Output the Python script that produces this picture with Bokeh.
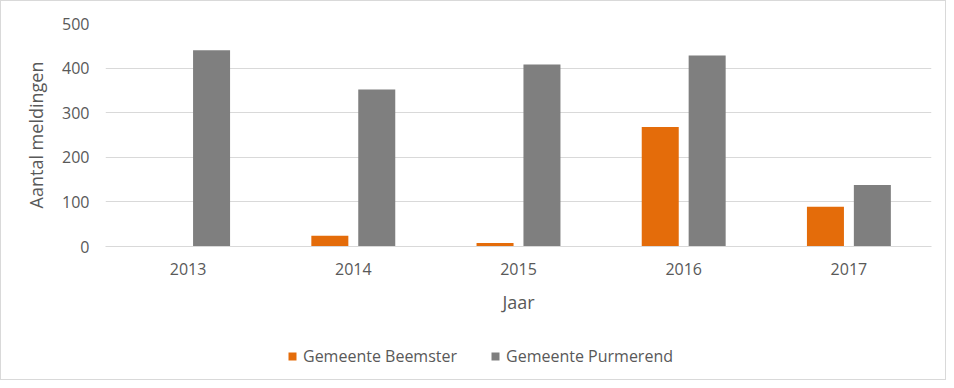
from bokeh.plotting import figure
from bokeh.layouts import column
from bokeh.models import FactorRange, Range1d, ColumnDataSource, Legend, LegendItem, FixedTicker
from bokeh.transform import dodge
from bokeh.embed import file_html
from bokeh.resources import INLINE

years = ["2013", "2014", "2015", "2016", "2017"]
beemster = [0, 24, 8, 268, 89]
purmerend = [440, 352, 408, 428, 138]
y_ticks = [0, 100, 200, 300, 400, 500]
series_names = ["Gemeente Beemster", "Gemeente Purmerend"]

ORANGE = "#e46c0a"
GRAY = "#7f7f7f"
TEXT = "#595959"
GRID = "#d9d9d9"
FONT = "Open Sans"

src = ColumnDataSource(dict(year=years, beemster=beemster, purmerend=purmerend))

p = figure(width=944, height=330, x_range=FactorRange(*years, range_padding=0),
           y_range=Range1d(0, 500), output_backend="svg", toolbar_location=None,
           min_border_left=104, min_border_right=14, min_border_top=22, min_border_bottom=85)
p.outline_line_color = None
p.background_fill_color = "white"
p.border_fill_color = "white"

r1 = p.vbar(x=dodge("year", -0.142, range=p.x_range), top="beemster", width=0.224,
            source=src, fill_color=ORANGE, line_color=None)
r2 = p.vbar(x=dodge("year", 0.142, range=p.x_range), top="purmerend", width=0.224,
            source=src, fill_color=GRAY, line_color=None)

p.xgrid.grid_line_color = None
p.ygrid.grid_line_color = GRID
p.ygrid.grid_line_width = 1

p.yaxis.ticker = FixedTicker(ticks=y_ticks)
for ax in (p.xaxis[0], p.yaxis[0]):
    ax.major_tick_line_color = None
    ax.minor_tick_line_color = None
    ax.major_label_text_font = FONT
    ax.major_label_text_font_size = "16px"
    ax.major_label_text_color = TEXT
    ax.axis_label_text_font = FONT
    ax.axis_label_text_font_size = "18px"
    ax.axis_label_text_font_style = "normal"
    ax.axis_label_text_color = TEXT

p.yaxis.axis_line_color = None
p.yaxis.axis_label = "Aantal meldingen"
p.yaxis.major_label_standoff = 10
p.yaxis.axis_label_standoff = 11

p.xaxis.axis_line_color = GRID
p.xaxis.axis_label = "Jaar"
p.xaxis.major_label_standoff = 10
p.xaxis.axis_label_standoff = 12

# Legend strip below the chart (its zero-height bars lie far outside its range)
p2 = figure(width=944, height=48, x_range=FactorRange(*years, range_padding=0),
            y_range=Range1d(1000, 1001), output_backend="svg", toolbar_location=None,
            min_border_left=104, min_border_right=14, min_border_top=0, min_border_bottom=0,
            x_axis_type=None, y_axis_type=None)
p2.outline_line_color = None
p2.xgrid.visible = False
p2.ygrid.visible = False
d1 = p2.vbar(x=dodge("year", -0.142, range=p2.x_range), top="beemster", bottom="beemster",
             width=0.224, source=src, fill_color=ORANGE, line_color=None)
d2 = p2.vbar(x=dodge("year", 0.142, range=p2.x_range), top="purmerend", bottom="purmerend",
             width=0.224, source=src, fill_color=GRAY, line_color=None)

legend = Legend(items=[LegendItem(label=series_names[0], renderers=[d1]),
                       LegendItem(label=series_names[1], renderers=[d2])],
                location=(182, 12), orientation="horizontal",
                border_line_color=None, background_fill_alpha=0,
                padding=0, margin=0, spacing=33,
                glyph_width=10, glyph_height=10, label_standoff=6,
                label_height=20, label_text_font=FONT, label_text_font_size="16px",
                label_text_color=TEXT)
p2.add_layout(legend, "center")

layout = column(p, p2, spacing=0)
layout.styles = {"border": "1px solid #d9d9d9"}

open("out.html", "w").write(file_html(layout, INLINE))
